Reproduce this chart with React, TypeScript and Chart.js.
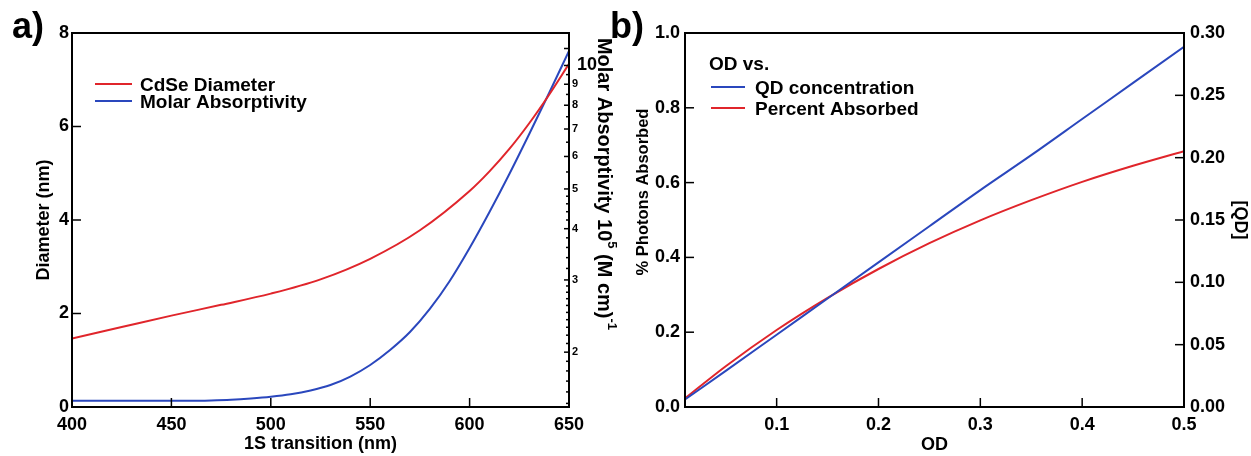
import React, { useEffect, useRef } from "react";
import { Chart, registerables } from "chart.js";

Chart.register(...registerables);

const FONT = '"Liberation Sans", Arial, Helvetica, sans-serif';
const RED = "#e0252b";
const BLUE = "#2a47bd";

// ---------- Panel a) ----------
const wavelengthTicks = [400, 450, 500, 550, 600, 650];
const diameterTicks = [0, 2, 4, 6, 8];
const absorptivityLabelTicks = [2, 3, 4, 5, 6, 7, 8, 9, 10];
const diameterWavelengths = [400, 425, 450, 475, 500, 525, 550, 575, 600, 610, 620, 630, 640, 650];
const diameterNm = [1.465, 1.71, 1.955, 2.185, 2.425, 2.73, 3.17, 3.78, 4.62, 5.04, 5.52, 6.07, 6.68, 7.34];
const absorptivityWavelengths = [400, 460, 470, 480, 490, 500, 510, 520, 530, 540, 550, 560, 570, 580, 590, 600, 610, 620, 630, 640, 650];
const absorptivity = [1.522, 1.522, 1.525, 1.531, 1.542, 1.557, 1.579, 1.613, 1.663, 1.744, 1.861, 2.024, 2.239, 2.549, 2.982, 3.588, 4.392, 5.438, 6.806, 8.568, 10.85];

// ---------- Panel b) ----------
const odTicks = [0.1, 0.2, 0.3, 0.4, 0.5];
const photonTicks = [0, 0.2, 0.4, 0.6, 0.8, 1.0];
const qdTicks = [0, 0.05, 0.1, 0.15, 0.2, 0.25, 0.3];
const odValues = [0.01, 0.05, 0.1, 0.15, 0.2, 0.25, 0.3, 0.35, 0.4, 0.45, 0.5];
const qdConcentration = [0.006, 0.029, 0.058, 0.087, 0.116, 0.145, 0.174, 0.202, 0.231, 0.26, 0.289];
const percentAbsorbed = [0.023, 0.109, 0.206, 0.292, 0.369, 0.438, 0.499, 0.553, 0.602, 0.645, 0.684];

// minor tick positions of the log axis
function logAxisTicks(): number[] {
  const out: number[] = [];
  for (let i = 15; i < 30; i++) out.push(i / 10);
  for (let i = 15; i < 25; i++) out.push(i / 5);
  for (let i = 10; i <= 20; i++) out.push(i / 2);
  out.push(11, 12);
  return out;
}

const tickFont = { family: FONT, size: 18, weight: "bold" as const };
const titleFont = { family: FONT, size: 18, weight: "bold" as const };

type AxisSpec = { id: string; side: "left" | "right" | "bottom"; len: number; minorLen?: number };
type LegendSpec = {
  title?: string;
  titleDx?: number;
  titleDy?: number;
  lineDx0: number;
  lineDx1: number;
  textDx: number;
  rowDy: number[];
};

function makeDecor(axes: AxisSpec[], legend: LegendSpec, extra?: (chart: any) => void) {
  return {
    id: "decor",
    afterDraw(chart: any) {
      const { ctx, chartArea: a } = chart;
      ctx.save();
      ctx.strokeStyle = "#000";
      ctx.lineWidth = 1.5;
      for (const ax of axes) {
        const s = chart.scales[ax.id];
        for (const t of s.ticks) {
          const v = t.value;
          const isMajor = ax.minorLen === undefined || Math.abs(v - Math.round(v)) < 1e-6;
          const len = isMajor ? ax.len : (ax.minorLen as number);
          const p = s.getPixelForValue(v);
          ctx.beginPath();
          if (ax.side === "left") {
            ctx.moveTo(a.left, p);
            ctx.lineTo(a.left + len, p);
          } else if (ax.side === "right") {
            ctx.moveTo(a.right, p);
            ctx.lineTo(a.right - len, p);
          } else {
            ctx.moveTo(p, a.bottom);
            ctx.lineTo(p, a.bottom - len);
          }
          ctx.stroke();
        }
      }
      ctx.lineWidth = 2;
      ctx.strokeRect(a.left, a.top, a.right - a.left, a.bottom - a.top);

      // legend
      ctx.fillStyle = "#000";
      ctx.font = `bold 19px ${FONT}`;
      ctx.textBaseline = "alphabetic";
      ctx.textAlign = "left";
      if (legend.title) {
        ctx.fillText(legend.title, a.left + (legend.titleDx || 0), a.top + (legend.titleDy || 0));
      }
      chart.data.datasets.forEach((ds: any, i: number) => {
        const y = a.top + legend.rowDy[i];
        ctx.strokeStyle = ds.borderColor;
        ctx.lineWidth = 2;
        ctx.beginPath();
        ctx.moveTo(a.left + legend.lineDx0, y);
        ctx.lineTo(a.left + legend.lineDx1, y);
        ctx.stroke();
        ctx.fillText(ds.label, a.left + legend.textDx, y + 7);
      });
      if (extra) extra(chart);
      ctx.restore();
    },
  };
}

function molarTitle(chart: any) {
  const ctx = chart.ctx;
  const cx = 604;
  const cy = 184;
  const big = `bold 20px ${FONT}`;
  const small = `bold 13px ${FONT}`;
  const parts = [
    { t: "Molar Absorptivity 10", f: big, up: 0 },
    { t: "5", f: small, up: 8 },
    { t: " (M cm)", f: big, up: 0 },
    { t: "-1", f: small, up: 8 },
  ];
  let total = 0;
  for (const p of parts) {
    ctx.font = p.f;
    total += ctx.measureText(p.t).width;
  }
  ctx.save();
  ctx.translate(cx, cy);
  ctx.rotate(Math.PI / 2);
  ctx.textBaseline = "middle";
  ctx.textAlign = "left";
  ctx.fillStyle = "#000";
  let x = -total / 2;
  for (const p of parts) {
    ctx.font = p.f;
    ctx.fillText(p.t, x, -p.up);
    x += ctx.measureText(p.t).width;
  }
  ctx.restore();
}

function photonsTitle(chart: any) {
  const ctx = chart.ctx;
  ctx.save();
  ctx.translate(18.5, 192);
  ctx.rotate(-Math.PI / 2);
  ctx.textBaseline = "middle";
  ctx.textAlign = "center";
  ctx.fillStyle = "#000";
  ctx.font = `bold 16.5px ${FONT}`;
  ctx.fillText("% Photons Absorbed", 0, 0);
  ctx.restore();
}

function configA(): any {
  const hidden = { display: false, drawTicks: false };
  return {
    type: "line",
    data: {
      datasets: [
        {
          label: "CdSe Diameter",
          data: diameterWavelengths.map((x, i) => ({ x, y: diameterNm[i] })),
          borderColor: RED,
          backgroundColor: RED,
          borderWidth: 2,
          pointRadius: 0,
          cubicInterpolationMode: "monotone",
          yAxisID: "y",
        },
        {
          label: "Molar Absorptivity",
          data: absorptivityWavelengths.map((x, i) => ({ x, y: absorptivity[i] })),
          borderColor: BLUE,
          backgroundColor: BLUE,
          borderWidth: 2,
          pointRadius: 0,
          cubicInterpolationMode: "monotone",
          yAxisID: "y1",
        },
      ],
    },
    options: {
      responsive: false,
      animation: false,
      devicePixelRatio: 1,
      layout: { padding: { top: 33, left: 0, right: 0, bottom: 0 } },
      plugins: { legend: { display: false }, tooltip: { enabled: false } },
      scales: {
        x: {
          type: "linear",
          position: "bottom",
          min: 400,
          max: 650,
          afterBuildTicks: (s: any) => {
            s.ticks = wavelengthTicks.map((v) => ({ value: v }));
          },
          afterFit: (s: any) => {
            s.height = 49;
          },
          grid: hidden,
          border: { display: false },
          ticks: {
            color: "#000",
            font: tickFont,
            padding: 7,
            autoSkip: false,
            maxRotation: 0,
            callback: (v: number) => String(v),
          },
          title: {
            display: true,
            text: "1S transition (nm)",
            color: "#000",
            font: titleFont,
            padding: { top: 0, bottom: 1 },
          },
        },
        y: {
          type: "linear",
          position: "left",
          min: 0,
          max: 8,
          afterBuildTicks: (s: any) => {
            s.ticks = diameterTicks.map((v) => ({ value: v }));
          },
          afterFit: (s: any) => {
            s.width = 72;
          },
          grid: hidden,
          border: { display: false },
          ticks: { color: "#000", font: tickFont, padding: 3, callback: (v: number) => String(v) },
          title: {
            display: true,
            text: "Diameter (nm)",
            color: "#000",
            font: titleFont,
            padding: { top: 33, bottom: 0 },
          },
        },
        y1: {
          type: "logarithmic",
          position: "right",
          min: 1.47,
          max: 12,
          afterBuildTicks: (s: any) => {
            s.ticks = logAxisTicks().map((v) => ({ value: v }));
          },
          afterFit: (s: any) => {
            s.width = 56;
          },
          grid: hidden,
          border: { display: false },
          ticks: {
            color: "#000",
            padding: 3,
            autoSkip: false,
            font: (c: any) => ({
              family: FONT,
              weight: "bold",
              size: c.tick && c.tick.value === 10 ? 18 : 11,
            }),
            callback: (v: number) => {
              const hit = absorptivityLabelTicks.find((t) => Math.abs(t - v) < 1e-6);
              if (hit === undefined) return "";
              return hit === 10 ? " 10" : String(hit);
            },
          },
          title: { display: false },
        },
      },
    },
    plugins: [
      makeDecor(
        [
          { id: "x", side: "bottom", len: 9 },
          { id: "y", side: "left", len: 9 },
          { id: "y1", side: "right", len: 5, minorLen: 3 },
        ],
        { lineDx0: 23, lineDx1: 60, textDx: 68, rowDy: [51, 68] },
        molarTitle
      ),
    ],
  };
}

function configB(): any {
  const hidden = { display: false, drawTicks: false };
  return {
    type: "line",
    data: {
      datasets: [
        {
          label: "QD concentration",
          data: odValues.map((x, i) => ({ x, y: qdConcentration[i] })),
          borderColor: BLUE,
          backgroundColor: BLUE,
          borderWidth: 2,
          pointRadius: 0,
          cubicInterpolationMode: "monotone",
          yAxisID: "y1",
        },
        {
          label: "Percent Absorbed",
          data: odValues.map((x, i) => ({ x, y: percentAbsorbed[i] })),
          borderColor: RED,
          backgroundColor: RED,
          borderWidth: 2,
          pointRadius: 0,
          cubicInterpolationMode: "monotone",
          yAxisID: "y",
        },
      ],
    },
    options: {
      responsive: false,
      animation: false,
      devicePixelRatio: 1,
      layout: { padding: { top: 33, left: 0, right: 0, bottom: 0 } },
      plugins: { legend: { display: false }, tooltip: { enabled: false } },
      scales: {
        x: {
          type: "linear",
          position: "bottom",
          min: 0.01,
          max: 0.5,
          afterBuildTicks: (s: any) => {
            s.ticks = odTicks.map((v) => ({ value: v }));
          },
          afterFit: (s: any) => {
            s.height = 49;
          },
          grid: hidden,
          border: { display: false },
          ticks: {
            color: "#000",
            font: tickFont,
            padding: 7,
            autoSkip: false,
            maxRotation: 0,
            callback: (v: number) => v.toFixed(1),
          },
          title: {
            display: true,
            text: "OD",
            color: "#000",
            font: titleFont,
            padding: { top: 0, bottom: 0 },
          },
        },
        y: {
          type: "linear",
          position: "left",
          min: 0,
          max: 1,
          afterBuildTicks: (s: any) => {
            s.ticks = photonTicks.map((v) => ({ value: v }));
          },
          afterFit: (s: any) => {
            s.width = 60;
          },
          grid: hidden,
          border: { display: false },
          ticks: { color: "#000", font: tickFont, padding: 5, callback: (v: number) => v.toFixed(1) },
          title: { display: false },
        },
        y1: {
          type: "linear",
          position: "right",
          min: 0,
          max: 0.3,
          afterBuildTicks: (s: any) => {
            s.ticks = qdTicks.map((v) => ({ value: v }));
          },
          afterFit: (s: any) => {
            s.width = 67;
          },
          grid: hidden,
          border: { display: false },
          ticks: { color: "#000", font: tickFont, padding: 6, callback: (v: number) => v.toFixed(2) },
          title: {
            display: true,
            text: "[QD]",
            color: "#000",
            font: titleFont,
            padding: { top: 0, bottom: 0 },
          },
        },
      },
    },
    plugins: [
      makeDecor(
        [
          { id: "x", side: "bottom", len: 9 },
          { id: "y", side: "left", len: 9 },
          { id: "y1", side: "right", len: 9 },
        ],
        { title: "OD vs.", titleDx: 24, titleDy: 37, lineDx0: 26, lineDx1: 60, textDx: 70, rowDy: [54, 75] },
        photonsTitle
      ),
    ],
  };
}

const panelLabel = (left: number): React.CSSProperties => ({
  position: "absolute",
  left,
  top: 8,
  font: `bold 36px ${FONT}`,
  lineHeight: "36px",
  color: "#000",
  whiteSpace: "nowrap",
});

export default function App() {
  const refA = useRef<HTMLCanvasElement>(null);
  const refB = useRef<HTMLCanvasElement>(null);

  useEffect(() => {
    const a = new Chart(refA.current as HTMLCanvasElement, configA());
    const b = new Chart(refB.current as HTMLCanvasElement, configB());
    return () => {
      a.destroy();
      b.destroy();
    };
  }, []);

  return (
    <div
      style={{
        position: "fixed",
        left: 0,
        top: 0,
        width: 1251,
        height: 456,
        background: "#fff",
        overflow: "hidden",
      }}
    >
      <div style={{ position: "absolute", left: 0, top: 0 }}>
        <canvas ref={refA} width={625} height={456} style={{ display: "block" }} />
      </div>
      <div style={{ position: "absolute", left: 625, top: 0 }}>
        <canvas ref={refB} width={626} height={456} style={{ display: "block" }} />
      </div>
      <div style={panelLabel(12)}>a)</div>
      <div style={panelLabel(610)}>b)</div>
    </div>
  );
}
